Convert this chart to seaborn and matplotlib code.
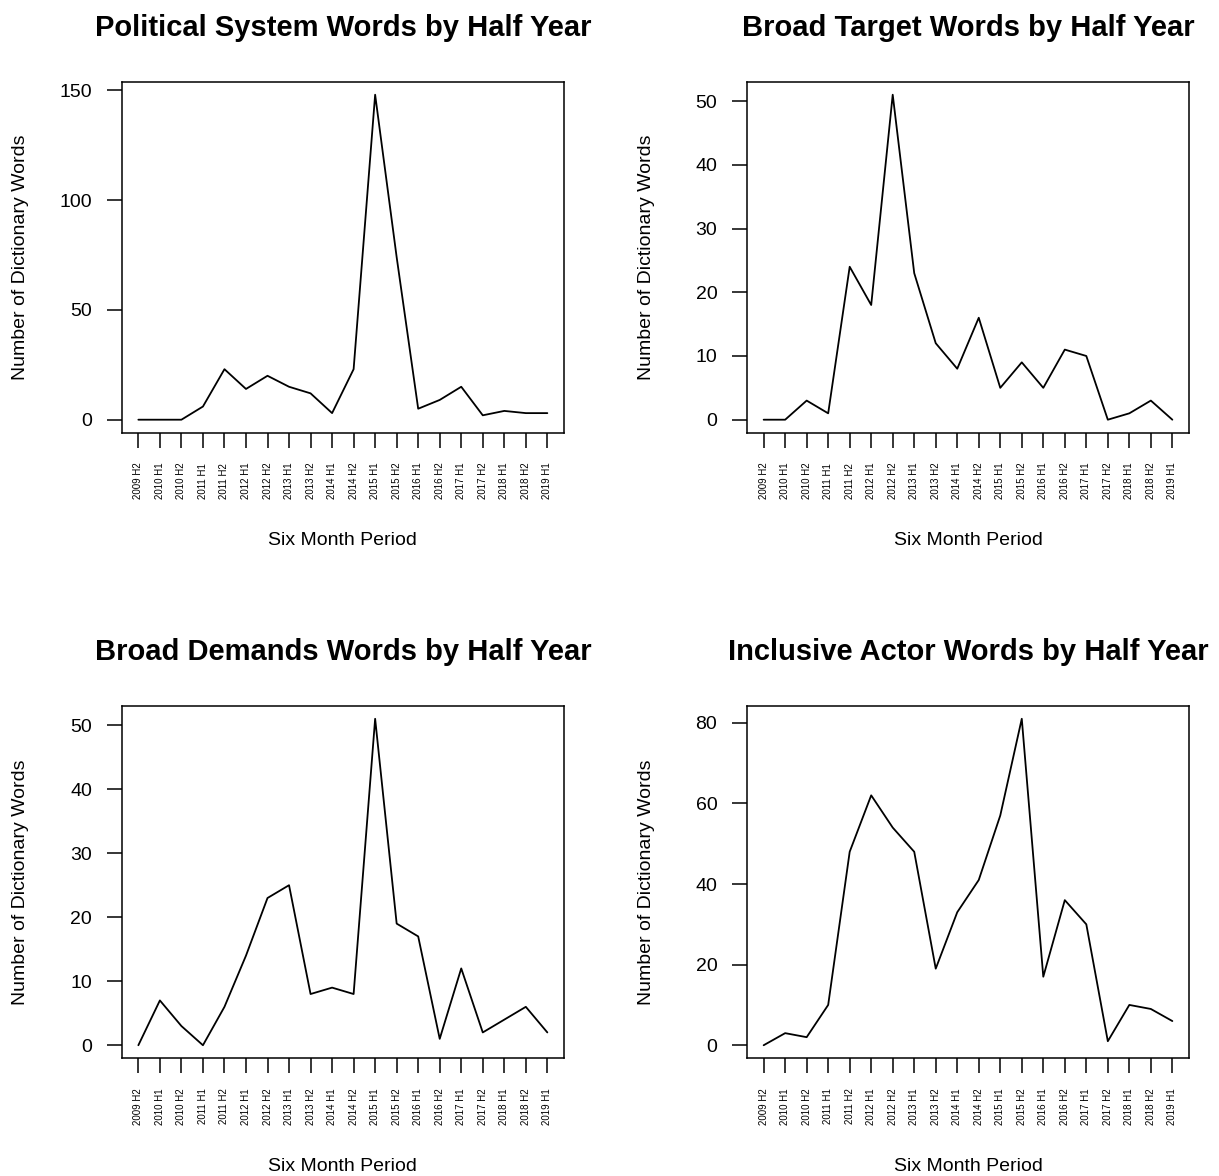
import numpy as np
import pandas as pd
import matplotlib
matplotlib.use("Agg")
import matplotlib.pyplot as plt
import seaborn as sns

periods = ["2009 H2", "2010 H1", "2010 H2", "2011 H1", "2011 H2", "2012 H1", "2012 H2",
           "2013 H1", "2013 H2", "2014 H1", "2014 H2", "2015 H1", "2015 H2", "2016 H1",
           "2016 H2", "2017 H1", "2017 H2", "2018 H1", "2018 H2", "2019 H1"]

political_system = [0, 0, 0, 6, 23, 14, 20, 15, 12, 3, 23, 148, 74, 5, 9, 15, 2, 4, 3, 3]
broad_target = [0, 0, 3, 1, 24, 18, 51, 23, 12, 8, 16, 5, 9, 5, 11, 10, 0, 1, 3, 0]
broad_demands = [0, 7, 3, 0, 6, 14, 23, 25, 8, 9, 8, 51, 19, 17, 1, 12, 2, 4, 6, 2]
inclusive_actor = [0, 3, 2, 10, 48, 62, 54, 48, 19, 33, 41, 57, 81, 17, 36, 30, 1, 10, 9, 6]

titles = ["Political System Words by Half Year", "Broad Target Words by Half Year",
          "Broad Demands Words by Half Year", "Inclusive Actor Words by Half Year"]
series = [political_system, broad_target, broad_demands, inclusive_actor]
yticks = [[0, 50, 100, 150], [0, 10, 20, 30, 40, 50], [0, 10, 20, 30, 40, 50], [0, 20, 40, 60, 80]]

sns.set_theme(style="ticks")
plt.rcParams['font.family'] = ['Liberation Sans', 'DejaVu Sans']
plt.rcParams['axes.linewidth'] = 1.1
plt.rcParams['text.color'] = 'black'
plt.rcParams['axes.labelcolor'] = 'black'
plt.rcParams['xtick.color'] = 'black'
plt.rcParams['ytick.color'] = 'black'

W, H = 1219, 1176
fig = plt.figure(figsize=(W / 100, H / 100), dpi=100)

boxes = [(122, 81.7, 563.7, 432.7), (747.3, 81.7, 1188.7, 432.7),
         (122, 705.7, 563.7, 1058.3), (747.3, 705.7, 1188.7, 1058.3)]

for i in range(4):
    l, t, r, b = boxes[i]
    ax = fig.add_axes([l / W, 1 - b / H, (r - l) / W, (b - t) / H])
    df = pd.DataFrame({"idx": np.arange(len(periods)), "value": series[i]})
    sns.lineplot(data=df, x="idx", y="value", ax=ax, color="black", linewidth=1.3)
    ax.margins(x=0.04, y=0.04)
    ax.set_xticks(np.arange(len(periods)))
    ax.set_xticklabels(periods, rotation=90, fontsize=7)
    ax.set_yticks(yticks[i])
    ax.tick_params(axis='y', labelsize=14, length=10.8, width=1.1, pad=10.8, colors='black')
    ax.tick_params(axis='x', length=10.8, width=1.1, pad=10.8, colors='black')
    for s in ax.spines.values():
        s.set_visible(True)
        s.set_color('black')
    ax.set_title(titles[i], fontsize=21, fontweight='bold', pad=33, color='black')
    ax.set_xlabel("Six Month Period", fontsize=14)
    ax.set_ylabel("Number of Dictionary Words", fontsize=14)
    ax.xaxis.set_label_coords(0.5, -108 / (b - t))
    ax.xaxis.label.set_va('center')
    ax.yaxis.set_label_coords(-101 / (r - l), 0.5)
    ax.yaxis.label.set_va('center')

fig.savefig("out.png", dpi=100, facecolor='white')
